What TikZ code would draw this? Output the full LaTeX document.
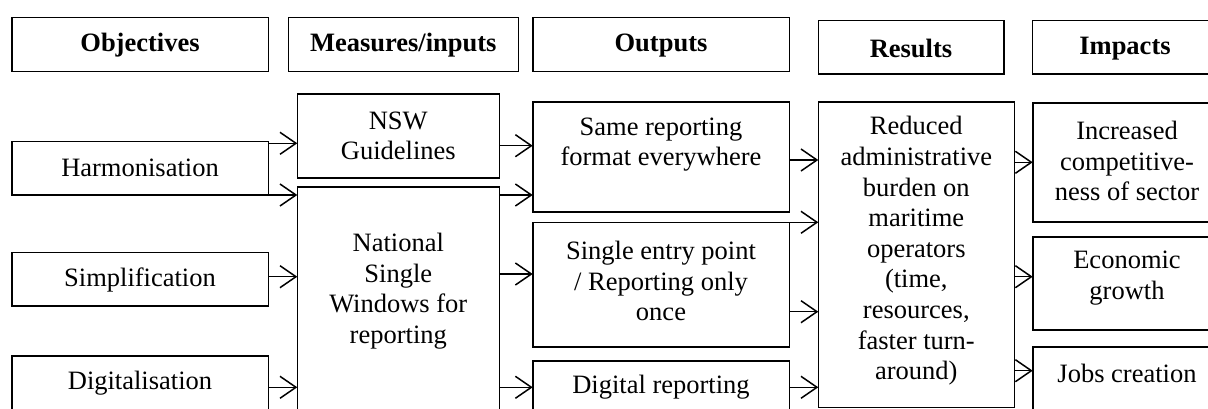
\documentclass[tikz,border=0pt]{standalone}
\usepackage{fontspec}
\setmainfont{Liberation Serif}
\usetikzlibrary{arrows.meta}
\begin{document}
\begin{tikzpicture}[x=1pt,y=-1pt,
  box/.style={draw,line width=1.6pt,inner sep=0pt,outer sep=0pt},
  txt/.style={align=center,inner sep=0pt,font=\fontsize{26.5}{30.6}\selectfont},
  hd/.style={txt,font=\fontsize{26.5}{30.6}\selectfont\bfseries},
  arr/.style={line width=1.5pt,-{Straight Barb[length=16pt,width=22pt,line width=1.5pt]}}]
\clip (0,0) rectangle (1208,409);
\fill[white] (0,0) rectangle (1208,409);
% helper: box from corners
\newcommand{\bx}[5]{\node[box,anchor=north west,minimum width=#4-#2,minimum height=#5-#3] (#1) at (#2,#3) {};}
% headers
\bx{hObj}{11.7}{17.7}{268.3}{71.7}
\bx{hMeas}{288.3}{17.7}{518.3}{71.7}
\bx{hOut}{532.7}{17.7}{789.3}{71.7}
\bx{hRes}{818.3}{20.7}{1004}{74}
\bx{hImp}{1032.3}{20.7}{1222}{74}
\node[hd] (tObj) at (140,45.5) {Objectives};
\node[hd] (tMeas) at (403.3,45.5) {Measures/inputs};
\node[hd] (tOut) at (661,45.5) {Outputs};
\node[hd] (tRes) at (911,48.3) {Results};
\node[hd] (tImp) at (1125,48.3) {Impacts};
% body boxes
\bx{harm}{11.7}{141.7}{268.3}{195}
\bx{simp}{11.7}{252.3}{268.3}{305.7}
\bx{digi}{11.7}{355.7}{268.3}{415}
\bx{nsw}{297.3}{94}{499.3}{178.3}
\bx{nat}{297.3}{187.3}{499.3}{420}
\bx{same}{532.7}{102.3}{789.3}{211.7}
\bx{single}{532.7}{222.3}{789.3}{346.7}
\bx{digrep}{532.7}{360.7}{789.3}{420}
\bx{res}{818.3}{102.3}{1014.3}{407.3}
\bx{inc}{1032.7}{103.3}{1222}{221.7}
\bx{eco}{1032.7}{236.7}{1222}{330}
\bx{jobs}{1032.7}{346.7}{1222}{420}
% texts
\node[txt] (tHarm) at (140,168.3) {Harmonisation};
\node[txt] (tSimp) at (140,279.5) {Simplification};
\node[txt] (tDigi) at (140,382.7) {Digitalisation};
\node[txt] (tNsw) at (398.3,136) {NSW\\Guidelines};
\node[txt] (tNat) at (398.3,291) {National\\Single\\Windows for\\reporting};
\node[txt] (tSame) at (661,144.7) {Same reporting\\format everywhere};
\node[txt] (tSingle) at (661,281) {Single entry point\\/ Reporting only\\once};
\node[txt] (tDigrep) at (661,386.7) {Digital reporting};
\node[txt] (tRes2) at (916.3,251) {Reduced\\administrative\\burden on\\maritime\\operators\\(time,\\resources,\\faster turn-\\around)};
\node[txt] (tInc) at (1127,161) {Increased\\competitive-\\ness of sector};
\node[txt] (tEco) at (1127,278.3) {Economic\\growth};
\node[txt] (tJobs) at (1127,373.3) {Jobs creation};
% arrows
\draw[arr] (harm.east |- 0,143.3) -- (nsw.west |- 0,143.3);
\draw[arr] (harm.east |- 0,195) -- (nat.west |- 0,195);
\draw[arr] (simp.east |- 0,276.7) -- (nat.west |- 0,276.7);
\draw[arr] (digi.east |- 0,387.3) -- (nat.west |- 0,387.3);
\draw[arr] (nsw.east |- 0,145.7) -- (same.west |- 0,145.7);
\draw[arr] (nat.east |- 0,195) -- (same.west |- 0,195);
\draw[arr] (nat.east |- 0,274) -- (single.west |- 0,274);
\draw[arr] (nat.east |- 0,387.3) -- (digrep.west |- 0,387.3);
\draw[arr] (same.east |- 0,160) -- (res.west |- 0,160);
\draw[arr] (single.north east) -- (res.west |- single.north east);
\draw[arr] (single.east |- 0,311.7) -- (res.west |- 0,311.7);
\draw[arr] (digrep.east |- 0,387.3) -- (res.west |- 0,387.3);
\draw[arr] (res.east |- 0,162.3) -- (inc.west |- 0,162.3);
\draw[arr] (res.east |- 0,276.7) -- (eco.west |- 0,276.7);
\draw[arr] (res.east |- 0,370.7) -- (jobs.west |- 0,370.7);
\end{tikzpicture}
\end{document}
